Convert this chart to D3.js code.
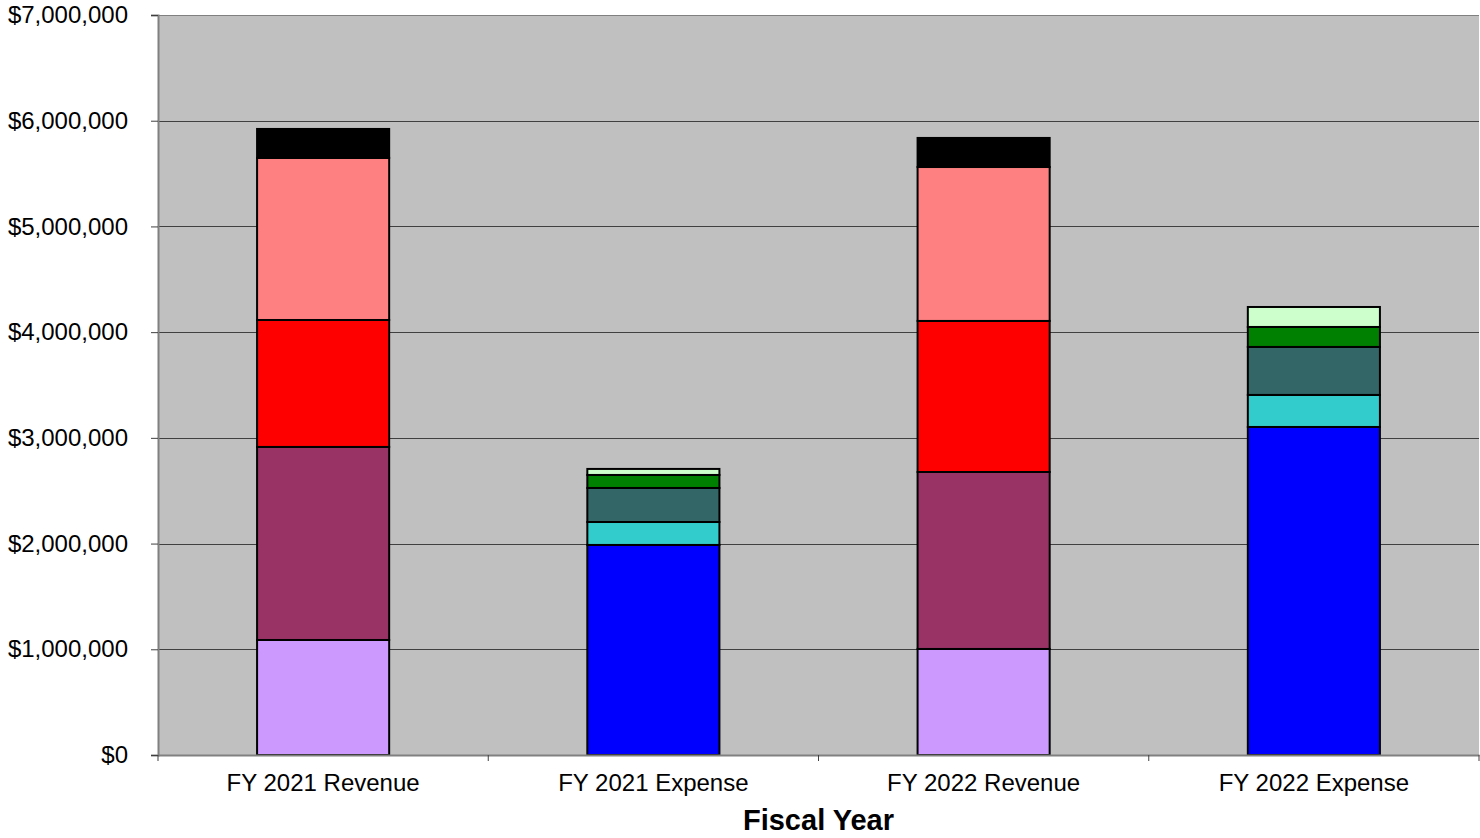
<!DOCTYPE html>
<html>
<head>
<meta charset="utf-8">
<script src="https://cdn.jsdelivr.net/npm/d3@7"></script>
<style>
  body { margin: 0; background: #fff; }
  text { font-family: "Liberation Sans", Arial, sans-serif; }
</style>
</head>
<body>
<div id="app"></div>
<script>
const categories = ['FY 2021 Revenue', 'FY 2021 Expense', 'FY 2022 Revenue', 'FY 2022 Expense'];

// revenue segments (bottom to top)
const rev1 = [1088000, 0, 1003000, 0];
const rev2 = [1826000, 0, 1674000, 0];
const rev3 = [1201000, 0, 1429000, 0];
const rev4 = [1533000, 0, 1456000, 0];
const rev5 = [274000, 0, 275000, 0];
// expense segments (bottom to top)
const exp1 = [0, 1987000, 0, 3103000];
const exp2 = [0, 217000, 0, 303000];
const exp3 = [0, 322000, 0, 454000];
const exp4 = [0, 123000, 0, 189000];
const exp5 = [0, 57000, 0, 189000];

const seriesNames = ['rev1', 'rev2', 'rev3', 'rev4', 'rev5', 'exp1', 'exp2', 'exp3', 'exp4', 'exp5'];
const seriesValues = [rev1, rev2, rev3, rev4, rev5, exp1, exp2, exp3, exp4, exp5];
const colors = ['#CC99FF', '#993366', '#FF0000', '#FF8080', '#000000',
                '#0000FF', '#33CCCC', '#336666', '#008000', '#CCFFCC'];
const yTicks = [0, 1000000, 2000000, 3000000, 4000000, 5000000, 6000000, 7000000];

const w = 1480, h = 838;
const plotLeft = 158, plotRight = 1479, plotTop = 15, plotBottom = 755;

const table = categories.map((c, i) => {
  const row = { cat: c };
  seriesNames.forEach((s, j) => row[s] = seriesValues[j][i]);
  return row;
});
const stacked = d3.stack().keys(seriesNames)(table);

const xScale = d3.scaleBand().domain(categories).range([plotLeft, plotRight]).paddingInner(0).paddingOuter(0);
const yScale = d3.scaleLinear().domain([0, 7000000]).range([plotBottom, plotTop]);

const svg = d3.select('#app').append('svg').attr('width', w).attr('height', h);

svg.append('rect')
  .attr('x', plotLeft).attr('y', plotTop)
  .attr('width', plotRight - plotLeft).attr('height', plotBottom - plotTop)
  .attr('fill', '#C0C0C0');

// gridlines
svg.append('g')
  .selectAll('line')
  .data(yTicks.slice(1))
  .join('line')
  .attr('x1', plotLeft).attr('x2', plotRight)
  .attr('y1', d => Math.round(yScale(d)) + 0.5)
  .attr('y2', d => Math.round(yScale(d)) + 0.5)
  .attr('stroke', d => d === 7000000 ? '#808080' : '#404040')
  .attr('stroke-width', 1);

const bw = xScale.bandwidth() * 0.4;

svg.append('g')
  .selectAll('g')
  .data(stacked)
  .join('g')
  .attr('fill', (d, i) => colors[i])
  .selectAll('rect')
  .data(d => d.filter(p => p[1] - p[0] > 0))
  .join('rect')
  .attr('x', d => xScale(d.data.cat) + (xScale.bandwidth() - bw) / 2)
  .attr('y', d => yScale(d[1]))
  .attr('width', bw)
  .attr('height', d => yScale(d[0]) - yScale(d[1]))
  .attr('stroke', '#000')
  .attr('stroke-width', 2);

const yAxis = d3.axisLeft(yScale)
  .tickValues(yTicks)
  .tickSize(7)
  .tickPadding(23)
  .tickFormat(d => '$' + d3.format(',')(d));

svg.append('g')
  .attr('transform', 'translate(' + plotLeft + ',0)')
  .call(yAxis)
  .call(g => g.select('.domain').attr('stroke', '#808080').attr('stroke-width', 2))
  .call(g => g.selectAll('.tick line').attr('stroke', '#404040'))
  .call(g => g.selectAll('.tick text').attr('font-size', 24).attr('fill', '#000').attr('font-family', '"Liberation Sans", Arial, sans-serif'));

const xAxis = d3.axisBottom(xScale).tickSize(0).tickPadding(19);
svg.append('g')
  .attr('transform', 'translate(0,' + plotBottom + ')')
  .call(xAxis)
  .call(g => g.select('.domain').attr('stroke', '#808080').attr('stroke-width', 2))
  .call(g => g.selectAll('.tick text').attr('font-size', 24).attr('fill', '#000').attr('font-family', '"Liberation Sans", Arial, sans-serif'));

// category boundary ticks
svg.append('g')
  .selectAll('line')
  .data(categories.concat(['end']))
  .join('line')
  .attr('x1', (d, i) => i < categories.length ? xScale(d) : plotRight)
  .attr('x2', (d, i) => i < categories.length ? xScale(d) : plotRight)
  .attr('y1', plotBottom).attr('y2', plotBottom + 6)
  .attr('stroke', '#404040');

svg.append('text')
  .attr('x', (plotLeft + plotRight) / 2)
  .attr('y', 830)
  .attr('text-anchor', 'middle')
  .attr('font-size', 29)
  .attr('font-weight', 'bold')
  .text('Fiscal Year');
</script>
</body>
</html>
